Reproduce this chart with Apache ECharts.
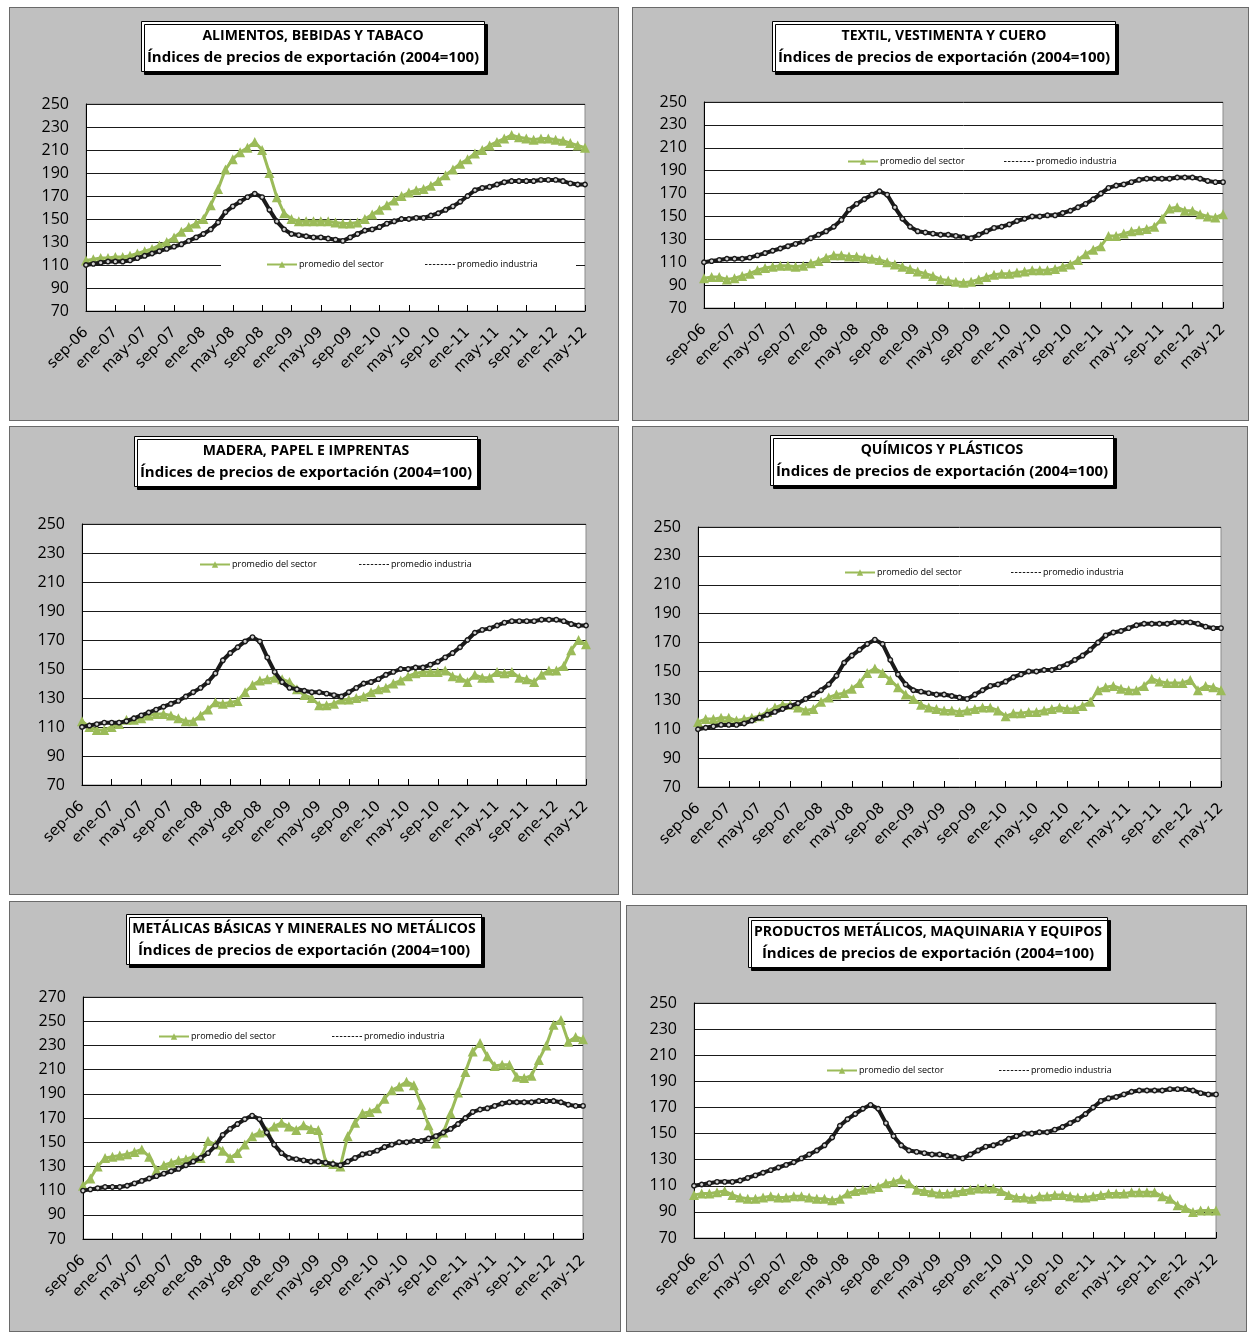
<!DOCTYPE html>
<html>
<head>
<meta charset="utf-8">
<script src="https://cdn.jsdelivr.net/npm/echarts@6/dist/echarts.min.js"></script>
<style>
html,body{margin:0;padding:0;background:#fff;width:1255px;height:1332px;overflow:hidden;}
.panel{position:absolute;background:#c0c0c0;border:1px solid #6a6a6a;box-sizing:border-box;}
</style>
</head>
<body>
<div id="p1" class="panel" style="left:9px;top:7px;width:610px;height:414px;"></div>
<div id="p2" class="panel" style="left:632px;top:7px;width:617px;height:414px;"></div>
<div id="p3" class="panel" style="left:9px;top:426px;width:610px;height:469px;"></div>
<div id="p4" class="panel" style="left:632px;top:426px;width:616px;height:469px;"></div>
<div id="p5" class="panel" style="left:9px;top:901px;width:612px;height:431px;"></div>
<div id="p6" class="panel" style="left:626px;top:905px;width:621px;height:427px;"></div>
<script>
// ---- categories (monthly, sep-06 .. may-12) ----
const months = ['sep-06','oct-06','nov-06','dic-06',
'ene-07','feb-07','mar-07','abr-07','may-07','jun-07','jul-07','ago-07','sep-07','oct-07','nov-07','dic-07',
'ene-08','feb-08','mar-08','abr-08','may-08','jun-08','jul-08','ago-08','sep-08','oct-08','nov-08','dic-08',
'ene-09','feb-09','mar-09','abr-09','may-09','jun-09','jul-09','ago-09','sep-09','oct-09','nov-09','dic-09',
'ene-10','feb-10','mar-10','abr-10','may-10','jun-10','jul-10','ago-10','sep-10','oct-10','nov-10','dic-10',
'ene-11','feb-11','mar-11','abr-11','may-11','jun-11','jul-11','ago-11','sep-11','oct-11','nov-11','dic-11',
'ene-12','feb-12','mar-12','abr-12','may-12'];

// ---- series: promedio industria (common to all panels) ----
const industria = [110,111,112,113,113,113,114,116,118,120,
122,124,126,128,131,134,137,141,147,156,
161,165,169,172,169,158,148,141,137,136,
135,134,134,133,132,131,134,137,140,141,
143,146,148,150,150,151,151,153,155,158,
161,165,170,175,177,178,180,182,183,183,
183,183,184,184,184,183,181,180,180];

// ---- series: promedio del sector ----
const alimentos = [114,115,116,116,117,117,118,120,122,124,
127,130,134,139,143,146,150,162,176,193,
202,208,212,217,210,190,169,155,150,148,
148,148,148,148,147,146,146,147,150,154,
158,162,166,170,173,175,176,179,183,188,
193,198,202,207,210,214,217,220,223,221,
220,219,220,220,219,218,216,214,212];

const textil = [96,97,97,95,96,98,100,103,105,106,
107,107,106,107,109,111,114,116,116,115,
115,114,113,112,110,108,106,104,102,100,
98,95,94,93,92,93,95,97,99,100,
100,101,102,103,103,103,104,106,108,112,
117,121,124,133,133,135,137,138,139,141,
148,157,158,155,155,152,150,149,152];

const madera = [114,110,108,108,110,112,115,115,116,118,
119,119,118,116,114,114,118,122,127,126,
127,128,134,139,142,143,144,143,141,136,
132,130,125,125,126,129,129,130,131,134,
136,137,140,142,145,147,148,148,148,149,
145,144,141,146,144,144,148,147,148,144,
143,141,146,149,149,152,163,170,167];

const quimicos = [115,117,117,118,118,116,117,118,119,122,
125,127,127,125,123,124,129,132,134,135,
138,142,149,152,149,144,139,134,131,127,
125,124,123,123,122,123,124,125,125,123,
119,121,121,122,122,123,124,125,124,124,
126,129,137,139,140,138,137,137,140,145,
143,142,142,142,144,137,140,139,137];

const metalicas = [114,120,130,137,138,139,140,142,144,138,
127,131,133,135,136,138,137,151,148,143,
137,141,148,155,158,159,163,166,163,160,
164,161,160,134,132,130,155,166,174,175,
178,186,193,196,200,197,181,164,149,158,
174,191,208,225,232,221,213,214,214,204,
203,205,218,230,247,251,233,237,235];

const maquinaria = [103,104,104,105,106,103,101,100,100,101,
102,101,101,102,102,101,100,100,99,100,
104,106,107,108,109,112,113,115,112,107,
106,105,104,104,105,106,107,108,108,108,
106,103,101,101,100,102,102,103,103,102,
101,101,102,103,104,104,104,105,105,105,
105,102,100,95,93,90,91,91,91];

// ---- titles / legend names ----
const subtitle = 'Índices de precios de exportación (2004=100)';
const nameSector = 'promedio del sector';
const nameIndustria = 'promedio industria';

const panels = [
  {id:'p1', title:'ALIMENTOS, BEBIDAS Y TABACO', data:alimentos, yMax:250,
   grid:{left:76, top:96, width:499, height:207}, tcx:303, ttop:10,
   leg:{left:211, top:249, w:355, x1:256, x2:415}},
  {id:'p2', title:'TEXTIL, VESTIMENTA Y CUERO', data:textil, yMax:250,
   grid:{left:71, top:94, width:519, height:206}, tcx:311, ttop:10,
   leg:{left:0, top:146, w:0, x1:214, x2:371}},
  {id:'p3', title:'MADERA, PAPEL E IMPRENTAS', data:madera, yMax:250,
   grid:{left:72, top:97, width:504, height:261}, tcx:296, ttop:6,
   leg:{left:141, top:130, w:360, x1:189, x2:349}},
  {id:'p4', title:'QUÍMICOS Y PLÁSTICOS', data:quimicos, yMax:250,
   grid:{left:65, top:100, width:523, height:260}, tcx:309, ttop:5,
   leg:{left:0, top:138, w:0, x1:211, x2:378}},
  {id:'p5', title:'METÁLICAS BÁSICAS Y MINERALES NO METÁLICOS', data:metalicas, yMax:270,
   grid:{left:73, top:95, width:500, height:242}, tcx:294, ttop:9,
   leg:{left:0, top:127, w:0, x1:148, x2:322}},
  {id:'p6', title:'PRODUCTOS METÁLICOS, MAQUINARIA Y EQUIPOS', data:maquinaria, yMax:250,
   grid:{left:67, top:97, width:522, height:235}, tcx:301, ttop:8,
   leg:{left:0, top:157, w:0, x1:199, x2:372}}
];

const FONT = '"Open Sans", "DejaVu Sans", sans-serif';
const XFONT = '"DejaVu Sans", "Open Sans", sans-serif';
const dashIcon = 'path://M0,0h2.5v1h-2.5zM4,0h2.5v1h-2.5zM8,0h2.5v1h-2.5zM12,0h2.5v1h-2.5zM16,0h2.5v1h-2.5zM20,0h2.5v1h-2.5zM24,0h2.5v1h-2.5zM28,0h2.5v1h-2.5z';

panels.forEach(p => {
  const chart = echarts.init(document.getElementById(p.id), null, {renderer:'canvas'});
  const graphics = [];
  if (p.leg.w > 0) {
    graphics.push({type:'rect', left:p.leg.left, top:p.leg.top, z:4,
      shape:{width:p.leg.w, height:14}, style:{fill:'#fff'}});
  }
  chart.setOption({
    backgroundColor: 'transparent',
    animation: false,
    title: {
      text: '{a|' + p.title + '}\n{b|' + subtitle + '}',
      left: p.tcx - 6, top: p.ttop,
      textAlign: 'center',
      padding: [8, 6, 6, 6],
      backgroundColor: '#fff',
      borderColor: '#000', borderWidth: 1,
      shadowColor: '#000', shadowOffsetX: 3, shadowOffsetY: 3, shadowBlur: 0,
      textStyle: {
        fontFamily: FONT, align: 'center',
        rich: {
          a: {fontFamily: FONT, fontSize: 14, fontWeight: 'bold', color: '#000', align: 'center', lineHeight: 21},
          b: {fontFamily: FONT, fontSize: 15, fontWeight: 'bold', color: '#000', align: 'center', lineHeight: 22}
        }
      }
    },
    graphic: graphics,
    legend: [
      {
        left: p.leg.x1, top: p.leg.top + 3, padding: 0, z: 6,
        itemWidth: 30, itemHeight: 8,
        textStyle: {fontFamily: FONT, fontSize: 9, color: '#000', padding: [0,0,0,-3]},
        data: [nameSector]
      },
      {
        left: p.leg.x2, top: p.leg.top + 3, padding: 0, z: 6,
        itemWidth: 30, itemHeight: 3,
        textStyle: {fontFamily: FONT, fontSize: 9, color: '#000', padding: [0,0,0,-3]},
        data: [{name: nameIndustria, icon: dashIcon, itemStyle: {color: '#1a1a1a', borderWidth: 0}}]
      }
    ],
    grid: Object.assign({show: true, backgroundColor: '#fff', borderColor: '#8c8c8c', borderWidth: 1}, p.grid),
    xAxis: {
      type: 'category', data: months, boundaryGap: false,
      axisLine: {lineStyle: {color: '#000', width: 1}},
      axisTick: {show: true, inside: true, length: 6, interval: 3, lineStyle: {color: '#000'}},
      axisLabel: {interval: 3, rotate: 45, fontFamily: XFONT, fontSize: 15, color: '#000', margin: 19},
      splitLine: {show: false}
    },
    yAxis: {
      type: 'value', min: 70, max: p.yMax, interval: 20,
      axisLine: {show: true, lineStyle: {color: '#000', width: 1}},
      axisTick: {show: false},
      axisLabel: {fontFamily: FONT, fontSize: 16, color: '#000', margin: 17},
      splitLine: {show: true, lineStyle: {color: '#1a1a1a', width: 1}}
    },
    series: [
      {
        name: nameSector, type: 'line', data: p.data,
        symbol: 'triangle', symbolSize: 10, showSymbol: true, showAllSymbol: true,
        lineStyle: {color: '#9bbb59', width: 3},
        itemStyle: {color: '#9bbb59', borderWidth: 0},
        z: 2
      },
      {
        name: nameIndustria, type: 'line', data: industria,
        symbol: 'circle', symbolSize: 4.5, showSymbol: true, showAllSymbol: true,
        lineStyle: {color: '#1a1a1a', width: 4},
        itemStyle: {color: '#d4d4d4', borderColor: '#1a1a1a', borderWidth: 1.4},
        z: 3
      }
    ]
  });
});
</script>
</body>
</html>
